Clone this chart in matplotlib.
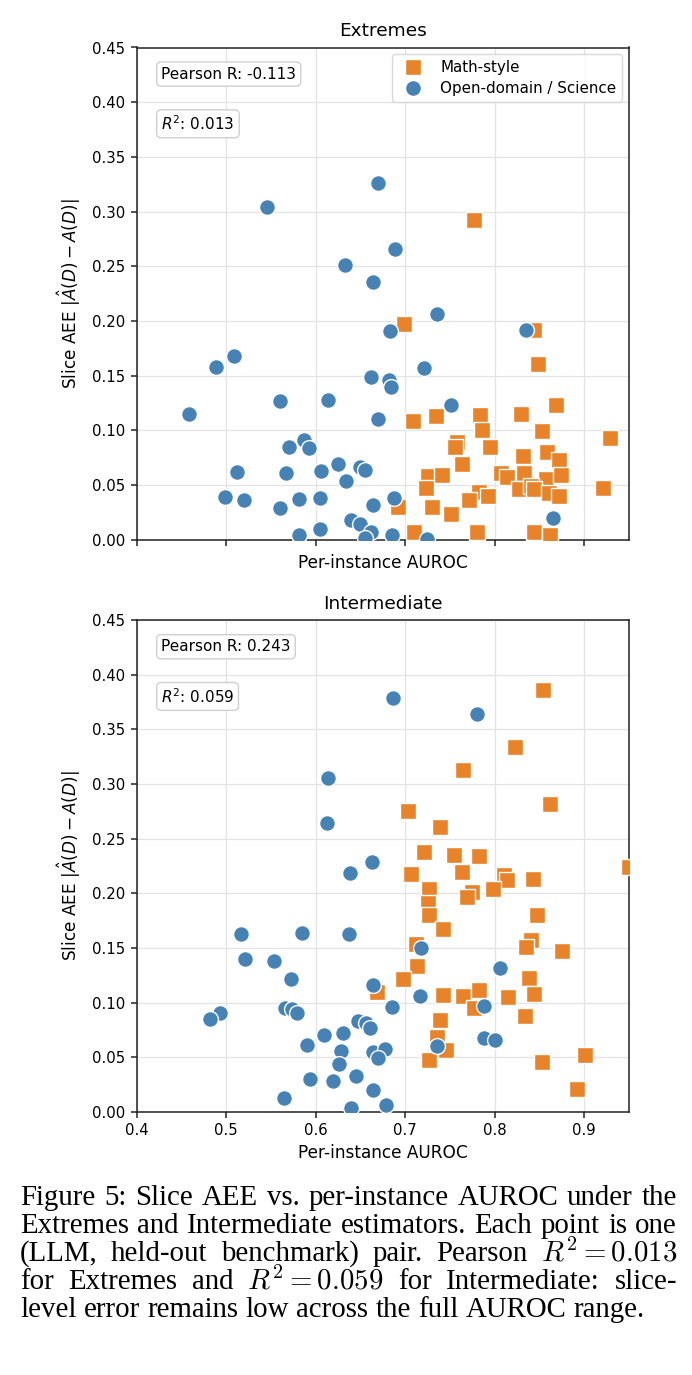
import matplotlib
matplotlib.use('Agg')
import matplotlib.pyplot as plt
from matplotlib.lines import Line2D

# ---------------- data ----------------
ext_math_x = [0.777, 0.699, 0.844, 0.848, 0.868, 0.829, 0.709, 0.734, 0.784, 0.786,
              0.853, 0.929, 0.758, 0.756, 0.795, 0.858, 0.872, 0.832, 0.763, 0.726,
              0.741, 0.723, 0.807, 0.814, 0.833, 0.857, 0.874, 0.827, 0.840, 0.844,
              0.861, 0.872, 0.921, 0.783, 0.792, 0.771, 0.730, 0.692, 0.751, 0.710,
              0.780, 0.844, 0.862]
ext_math_y = [0.292, 0.197, 0.192, 0.161, 0.123, 0.115, 0.109, 0.113, 0.114, 0.100,
              0.099, 0.093, 0.089, 0.085, 0.085, 0.080, 0.073, 0.077, 0.069, 0.058,
              0.059, 0.047, 0.061, 0.057, 0.061, 0.056, 0.059, 0.046, 0.049, 0.046,
              0.043, 0.040, 0.047, 0.044, 0.040, 0.036, 0.030, 0.030, 0.024, 0.007,
              0.007, 0.007, 0.004]
ext_open_x = [0.546, 0.670, 0.633, 0.664, 0.689, 0.509, 0.489, 0.458, 0.560, 0.614,
              0.662, 0.670, 0.587, 0.593, 0.570, 0.512, 0.567, 0.606, 0.625, 0.634,
              0.649, 0.655, 0.499, 0.520, 0.560, 0.581, 0.605, 0.664, 0.640, 0.650,
              0.662, 0.581, 0.605, 0.655, 0.736, 0.683, 0.835, 0.721, 0.682, 0.684,
              0.751, 0.688, 0.865, 0.685, 0.724]
ext_open_y = [0.304, 0.326, 0.251, 0.236, 0.266, 0.168, 0.158, 0.115, 0.127, 0.128,
              0.149, 0.110, 0.091, 0.084, 0.085, 0.062, 0.061, 0.063, 0.069, 0.054,
              0.067, 0.064, 0.039, 0.036, 0.029, 0.037, 0.038, 0.032, 0.018, 0.014,
              0.007, 0.004, 0.010, 0.002, 0.206, 0.191, 0.192, 0.157, 0.146, 0.140,
              0.123, 0.038, 0.020, 0.004, 0.001]

int_math_x = [0.854, 0.823, 0.765, 0.862, 0.703, 0.739, 0.721, 0.755, 0.783, 0.950,
              0.707, 0.764, 0.810, 0.814, 0.843, 0.727, 0.775, 0.769, 0.798, 0.726,
              0.727, 0.847, 0.742, 0.840, 0.835, 0.875, 0.712, 0.713, 0.698, 0.838,
              0.668, 0.742, 0.765, 0.782, 0.815, 0.844, 0.777, 0.834, 0.739, 0.736,
              0.746, 0.727, 0.853, 0.901, 0.892]
int_math_y = [0.386, 0.334, 0.313, 0.282, 0.275, 0.261, 0.238, 0.235, 0.234, 0.224,
              0.218, 0.220, 0.217, 0.212, 0.213, 0.204, 0.201, 0.197, 0.204, 0.191,
              0.180, 0.180, 0.167, 0.157, 0.151, 0.147, 0.154, 0.134, 0.122, 0.123,
              0.110, 0.107, 0.106, 0.112, 0.105, 0.108, 0.095, 0.088, 0.084, 0.069,
              0.057, 0.048, 0.046, 0.052, 0.021]
int_open_x = [0.614, 0.613, 0.663, 0.638, 0.686, 0.780, 0.718, 0.806, 0.664, 0.716,
              0.788, 0.685, 0.788, 0.800, 0.735, 0.664, 0.678, 0.670, 0.664, 0.679,
              0.517, 0.585, 0.637, 0.521, 0.553, 0.573, 0.493, 0.482, 0.566, 0.574,
              0.579, 0.647, 0.656, 0.661, 0.609, 0.630, 0.590, 0.628, 0.626, 0.594,
              0.619, 0.645, 0.565, 0.640]
int_open_y = [0.306, 0.264, 0.229, 0.219, 0.379, 0.364, 0.150, 0.132, 0.116, 0.106,
              0.097, 0.096, 0.068, 0.066, 0.060, 0.055, 0.058, 0.049, 0.020, 0.006,
              0.163, 0.164, 0.163, 0.140, 0.138, 0.122, 0.091, 0.085, 0.095, 0.094,
              0.091, 0.083, 0.081, 0.077, 0.070, 0.072, 0.061, 0.056, 0.044, 0.030,
              0.028, 0.033, 0.013, 0.004]

titles = ["Extremes", "Intermediate"]
pearson_r = ["-0.113", "0.243"]
r_squared = ["0.013", "0.059"]
group_labels = ["Math-style", "Open-domain / Science"]
x_ticks = [0.4, 0.5, 0.6, 0.7, 0.8, 0.9]
y_ticks = [0.00, 0.05, 0.10, 0.15, 0.20, 0.25, 0.30, 0.35, 0.40, 0.45]

caption_lines = [
    ["Figure", "5:", "Slice", "AEE", "vs.", "per-instance", "AUROC", "under", "the"],
    ["Extremes", "and", "Intermediate", "estimators.", "Each", "point", "is", "one"],
    ["(LLM,", "held-out", "benchmark)", "pair.", "Pearson", r"$R^2 = 0.013$"],
    ["for", "Extremes", "and", r"$R^2 = 0.059$", "for", "Intermediate:", "slice-"],
    ["level", "error", "remains", "low", "across", "the", "full", "AUROC", "range."],
]

# ---------------- style ----------------
ORANGE = "#E8832A"
BLUE = "#4682B4"
W, H = 692, 1375
fig = plt.figure(figsize=(W / 100, H / 100), dpi=100)


def px_axes(l, t, r, b):
    return fig.add_axes([l / W, 1 - b / H, (r - l) / W, (b - t) / H])


ax1 = px_axes(136.6, 47.5, 629, 539.8)
ax2 = px_axes(136.6, 620.2, 629, 1112)

datasets = [(ext_math_x, ext_math_y, ext_open_x, ext_open_y),
            (int_math_x, int_math_y, int_open_x, int_open_y)]

for i, (ax, (mx, my, ox, oy)) in enumerate(zip([ax1, ax2], datasets)):
    ax.set_axisbelow(True)
    ax.grid(True, color="#e3e3e3", lw=0.9)
    ax.scatter(mx, my, marker="s", s=130, c=ORANGE, edgecolors="white",
               linewidths=1.0, zorder=3)
    ax.scatter(ox, oy, marker="o", s=130, c=BLUE, edgecolors="white",
               linewidths=1.0, zorder=4)
    ax.set_xlim(0.4, 0.95)
    ax.set_ylim(0, 0.45)
    ax.set_xticks(x_ticks)
    ax.set_yticks(y_ticks)
    ax.set_yticklabels([f"{v:.2f}" for v in y_ticks])
    ax.set_xticklabels([f"{v:.1f}" for v in x_ticks])
    ax.tick_params(labelsize=10.7, length=4.5, width=1.1, direction="out", color="#222222")
    for sp in ax.spines.values():
        sp.set_color("#222222")
        sp.set_linewidth(1.1)
    ax.set_title(titles[i], fontsize=13.3, pad=8)
    ax.set_ylabel(r"Slice AEE $|\hat{A}(D) - A(D)|$", fontsize=12.2, labelpad=7)
    ax.set_xlabel("Per-instance AUROC", fontsize=12.2, labelpad=4)
    bbox = dict(boxstyle="round,pad=0.3", fc="white", ec="#cfcfcf", lw=1.0)
    ax.text(0.05, 0.946, f"Pearson R: {pearson_r[i]}", transform=ax.transAxes,
            fontsize=11, va="center", ha="left", bbox=bbox, zorder=6)
    ax.text(0.05, 0.845, f"$R^2$: {r_squared[i]}", transform=ax.transAxes,
            fontsize=11, va="center", ha="left", bbox=bbox, zorder=6)

ax1.tick_params(labelbottom=False)
ax1.xaxis.labelpad = 6

handles = [Line2D([], [], marker="s", ls="", color=ORANGE, markersize=11.5, markeredgecolor="white"),
           Line2D([], [], marker="o", ls="", color=BLUE, markersize=11.5, markeredgecolor="white")]
leg = ax1.legend(handles, group_labels, loc="upper right", fontsize=10.9, frameon=True,
                 borderpad=0.4, handletextpad=0.8, labelspacing=0.4, borderaxespad=0.45)
leg.get_frame().set_edgecolor("#d0d0d0")
leg.get_frame().set_linewidth(1.0)
leg.set_zorder(7)

# ---------------- caption (justified) ----------------
renderer = fig.canvas.get_renderer()
x_left, x_right = 20, 677
baselines = [1205, 1233, 1261, 1289, 1317]


def make_text(s, fs):
    return fig.text(0, 0, s, fontsize=fs, family="Liberation Serif",
                    math_fontfamily="cm", va="baseline", ha="left")


def natural_width(words, fs):
    ts = [make_text(w, fs) for w in words]
    ws = sum(t.get_window_extent(renderer).width for t in ts)
    for t in ts:
        t.remove()
    p1 = make_text("a b", fs)
    p2 = make_text("ab", fs)
    sp = p1.get_window_extent(renderer).width - p2.get_window_extent(renderer).width
    p1.remove()
    p2.remove()
    return ws + sp * (len(words) - 1), sp


# fit the font so the widest justified line needs only a little stretching
widest = max(natural_width(l, 20)[0] for l in caption_lines[:-1])
CAP_FS = 20 * 652 / widest
_, space = natural_width(["a"], CAP_FS)

for li, words in enumerate(caption_lines):
    texts = [make_text(w, CAP_FS) for w in words]
    widths = [t.get_window_extent(renderer).width for t in texts]
    total = sum(widths)
    if li < len(caption_lines) - 1:
        gap = (x_right - x_left - total) / (len(words) - 1)
    else:
        gap = space
    x = x_left
    yb = 1 - baselines[li] / H
    for t, w in zip(texts, widths):
        t.set_position((x / W, yb))
        x += w + gap

fig.savefig("out.png", dpi=100)
